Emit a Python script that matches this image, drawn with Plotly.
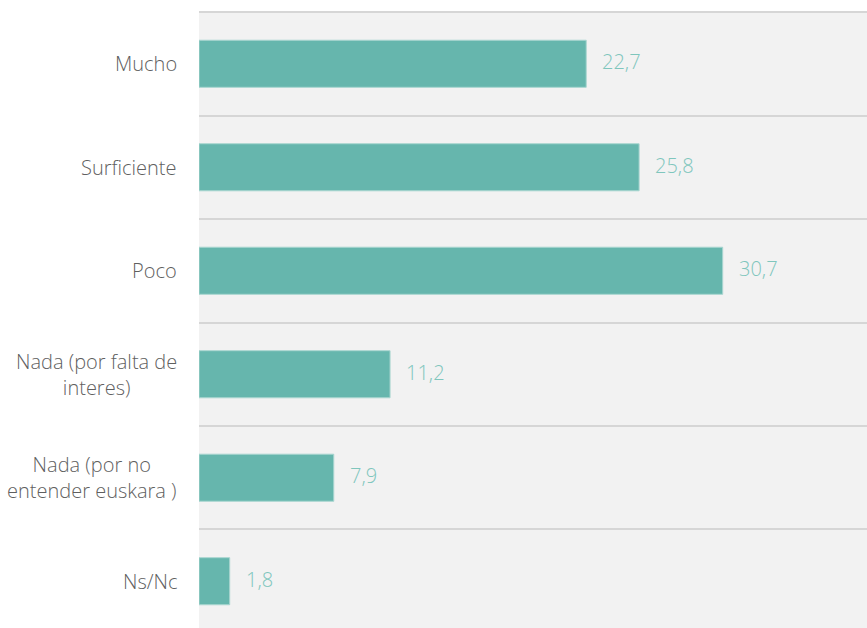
import plotly.graph_objects as go

# Survey answers and their percentages
categories = [
    "Mucho",
    "Surficiente",
    "Poco",
    "Nada (por falta de<br>interes)",
    "Nada (por no<br>entender euskara )",
    "Ns/Nc",
]
values = [22.7, 25.8, 30.7, 11.2, 7.9, 1.8]
value_labels = [f"{v:.1f}".replace(".", ",") for v in values]

BAR_COLOR = "#66b6ad"
LABEL_COLOR = "#7fc6bd"
TEXT_COLOR = "#5f5f5f"
FONT = "Open Sans"

fig = go.Figure(
    go.Bar(
        x=values,
        y=categories,
        orientation="h",
        width=0.455,
        marker=dict(color=BAR_COLOR, line=dict(color="#a9d6d0", width=1)),
        hoverinfo="skip",
    )
)

# Value labels placed just past the end of each bar
for cat, v, lab in zip(categories, values, value_labels):
    fig.add_annotation(
        x=v, y=cat, text=lab, showarrow=False,
        xanchor="left", yanchor="middle", xshift=14, yshift=2,
        font=dict(family=FONT, size=20, color=LABEL_COLOR, weight=300),
    )

# Category labels, centred line by line, to the left of the plot area
for cat in categories:
    fig.add_annotation(
        x=0, xref="paper", y=cat, text=cat, showarrow=False,
        xanchor="right", yanchor="middle", align="center", xshift=-20,
        font=dict(family=FONT, size=20, color=TEXT_COLOR, weight=300),
    )

fig.update_layout(
    width=867, height=628,
    margin=dict(l=199, r=0, t=11, b=0),
    paper_bgcolor="white",
    plot_bgcolor="#f2f2f2",
    showlegend=False,
    font=dict(family=FONT, size=20, color=TEXT_COLOR),
)
fig.update_xaxes(
    range=[0, 39.16], showgrid=False, zeroline=False,
    showticklabels=False, ticks="", fixedrange=True,
)
fig.update_yaxes(
    type="category",
    categoryorder="array", categoryarray=categories,
    range=[5.452, -0.51],
    tickson="boundaries",
    showgrid=True, gridcolor="#d6d6d6", gridwidth=2,
    ticks="", showticklabels=False,
    zeroline=False, showline=False,
)

fig.write_html("out.html")
